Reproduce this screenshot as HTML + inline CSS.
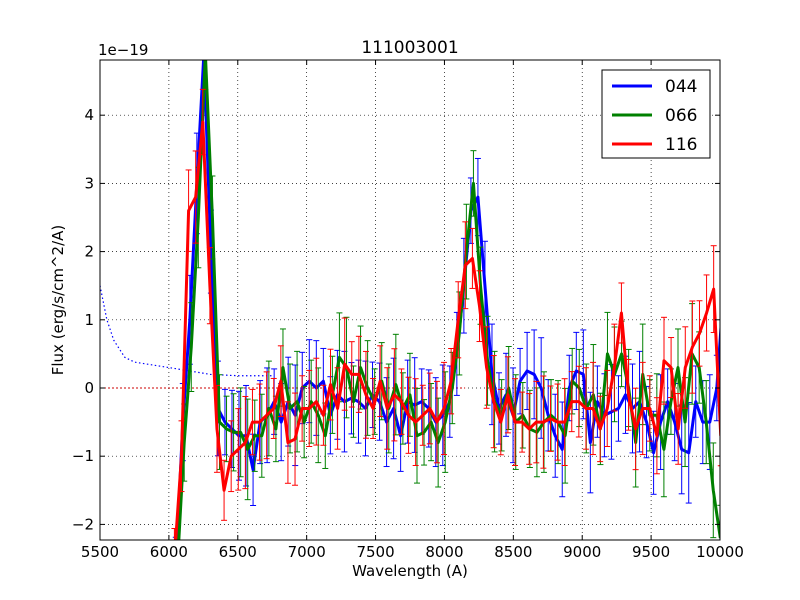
<!DOCTYPE html>
<html><head><meta charset="utf-8"><style>
html,body{margin:0;padding:0;background:#fff;width:800px;height:600px;overflow:hidden;}
svg{display:block;}
svg text{font-family:"DejaVu Sans","Liberation Sans",sans-serif;}
</style></head><body>
<svg id="s" width="800" height="600" xmlns="http://www.w3.org/2000/svg">
<rect width="800" height="600" fill="#fff"/>
<defs><clipPath id="c"><rect x="100" y="60" width="620" height="480"/></clipPath></defs>
<g id="grid"></g>
<g id="plot" clip-path="url(#c)"></g>
<rect x="100" y="60" width="620" height="480" fill="none" stroke="#000" stroke-width="1"/>
<g id="ticks"></g>
<text x="410" y="53" font-size="17" text-anchor="middle">111003001</text>
<text x="410" y="576" font-size="15" text-anchor="middle">Wavelength (A)</text>
<text x="63" y="300" font-size="15" text-anchor="middle" transform="rotate(-90 63 300)">Flux (erg/s/cm^2/A)</text>
<text x="98" y="55" font-size="15">1e−19</text>
<g>
<rect x="602" y="70" width="108" height="88" fill="#fff" stroke="#000"/>
<line x1="612" y1="86" x2="652" y2="86" stroke="#0000ff" stroke-width="3"/><text x="665" y="92" font-size="17">044</text>
<line x1="612" y1="115" x2="652" y2="115" stroke="#008000" stroke-width="3"/><text x="665" y="121" font-size="17">066</text>
<line x1="612" y1="144" x2="652" y2="144" stroke="#ff0000" stroke-width="3"/><text x="665" y="150" font-size="17">116</text>
</g>
</svg>
<script>
const NS="http://www.w3.org/2000/svg";
const C=y=>Math.max(50,Math.min(570,y));
const X=w=>100+(w-5500)*620/4500, Y=f=>C(388-f*68.2);
function el(p,t,a){const e=document.createElementNS(NS,t);for(const k in a)e.setAttribute(k,a[k]);document.getElementById(p).appendChild(e);return e;}
for(let w=5500;w<=10000;w+=500){const x=X(w);
 if(w>5500&&w<10000)el("grid","line",{x1:x,y1:60,x2:x,y2:540,stroke:"#000","stroke-dasharray":"1,3","stroke-width":0.7});
 el("ticks","line",{x1:x,y1:540,x2:x,y2:535,stroke:"#000"});el("ticks","line",{x1:x,y1:60,x2:x,y2:65,stroke:"#000"});
 const t=el("ticks","text",{x:x,y:557,"font-size":15,"text-anchor":"middle"});t.textContent=w;}
for(let f=-2;f<=4;f++){const y=Y(f);
 el("grid","line",{x1:100,y1:y,x2:720,y2:y,stroke:"#000","stroke-dasharray":"1,3","stroke-width":0.7});
 el("ticks","line",{x1:100,y1:y,x2:105,y2:y,stroke:"#000"});el("ticks","line",{x1:720,y1:y,x2:715,y2:y,stroke:"#000"});
 const t=el("ticks","text",{x:94,y:y+5,"font-size":15,"text-anchor":"end"});t.textContent=f<0?"−"+(-f):f;}
el("plot","polyline",{points:[[5500,1.5],[5550,1],[5600,0.7],[5680,0.45],[5750,0.38],[6000,0.3],[6300,0.2],[6500,0.18],[6750,0.18]].map(p=>X(p[0])+","+Y(p[1])).join(" "),fill:"none",stroke:"#0000ff","stroke-dasharray":"1.5,2.5","stroke-width":1.2});
el("plot","line",{x1:100,y1:Y(0),x2:X(8150),y2:Y(0),stroke:"#cc0000","stroke-dasharray":"2,2","stroke-width":1});
const B=[-3,-0.5,1,3,4.9,2,-0.3,-0.5,-0.6,-0.7,-0.7,-1.2,-0.5,-0.4,-0.2,-0.5,-0.2,-0.4,0,0.1,0,0.1,-0.4,-0.1,-0.2,-0.15,-0.2,-0.3,-0.1,-0.2,-0.5,-0.3,-0.7,-0.2,-0.25,-0.2,-0.3,-0.5,-0.4,-0.2,0.5,1.5,2.6,2.8,1.5,0.2,-0.3,-0.1,-0.4,0.1,0.25,0.2,0,-0.4,-0.7,-0.9,0,0.25,0.2,-0.8,-0.2,-0.4,-0.35,-0.3,-0.1,-0.3,-0.2,-0.5,-0.95,-0.5,-0.2,-0.5,-0.9,-0.95,-0.2,-0.5,-0.5,0,1.5];
const G=[-3.2,-0.8,0.6,2.5,4.9,2.5,-0.5,-0.6,-0.65,-0.65,-0.9,-0.7,-0.7,-0.3,-0.6,0.3,-0.3,-0.2,-0.5,-0.2,-0.4,-0.7,-0.1,0.45,0.3,-0.2,0.3,0,-0.2,0.1,-0.3,0.05,-0.3,-0.1,-0.7,-0.65,-0.5,-0.8,-0.5,0,0.8,2,3,1.5,0.4,-0.2,-0.4,0,-0.5,-0.4,-0.6,-0.65,-0.5,-0.4,-0.5,-0.7,0.1,0,-0.3,-0.1,-0.6,0.5,0.2,0.5,0,-0.8,0.2,-0.4,-0.4,-0.9,-0.2,0.3,-0.5,0.5,0.3,-0.5,-1.5,-2.2];
const R=[-2.5,-1,2.6,2.8,3.9,1.5,-0.6,-1.5,-1.0,-0.9,-0.8,-0.5,-0.5,-0.4,-0.3,0.1,-0.8,-0.75,-0.3,-0.3,-0.2,-0.4,0.05,-0.3,0.35,0.2,0.2,-0.1,-0.3,0.1,-0.3,-0.1,-0.2,-0.4,-0.5,-0.4,-0.3,-0.5,-0.3,0.1,1.0,1.8,1.9,1.2,0.3,-0.2,-0.5,-0.1,-0.5,-0.5,-0.6,-0.5,-0.5,-0.45,-0.5,-0.5,-0.2,-0.2,-0.3,-0.3,-0.6,-0.3,0.3,1.1,-0.1,-0.6,-0.3,-0.3,-0.7,0.4,0.3,-0.6,0.3,0.6,0.8,1.1,1.45,-0.7];
function series(d,col,err,x0,st){
 const pts=d.map((f,i)=>[X(x0+i*st),Y(f)]);
 pts.forEach((p,i)=>{const e=err*68.2*(0.8+0.5*((i*37)%7)/7);
  const a=C(p[1]-e),b=C(p[1]+e);
  el("plot","line",{x1:p[0],y1:a,x2:p[0],y2:b,stroke:col,"stroke-width":1});
  el("plot","line",{x1:p[0]-3,y1:a,x2:p[0]+3,y2:a,stroke:col,"stroke-width":1});
  el("plot","line",{x1:p[0]-3,y1:b,x2:p[0]+3,y2:b,stroke:col,"stroke-width":1});});
 el("plot","polyline",{points:pts.map(p=>p.join(",")).join(" "),fill:"none",stroke:col,"stroke-width":3,"stroke-linejoin":"round"});
}
series(B,"#0000ff",0.6,6050,51);
series(G,"#008000",0.6,6060,51.2);
series(R,"#ff0000",0.55,6040,51.5);
</script>
</body></html>
